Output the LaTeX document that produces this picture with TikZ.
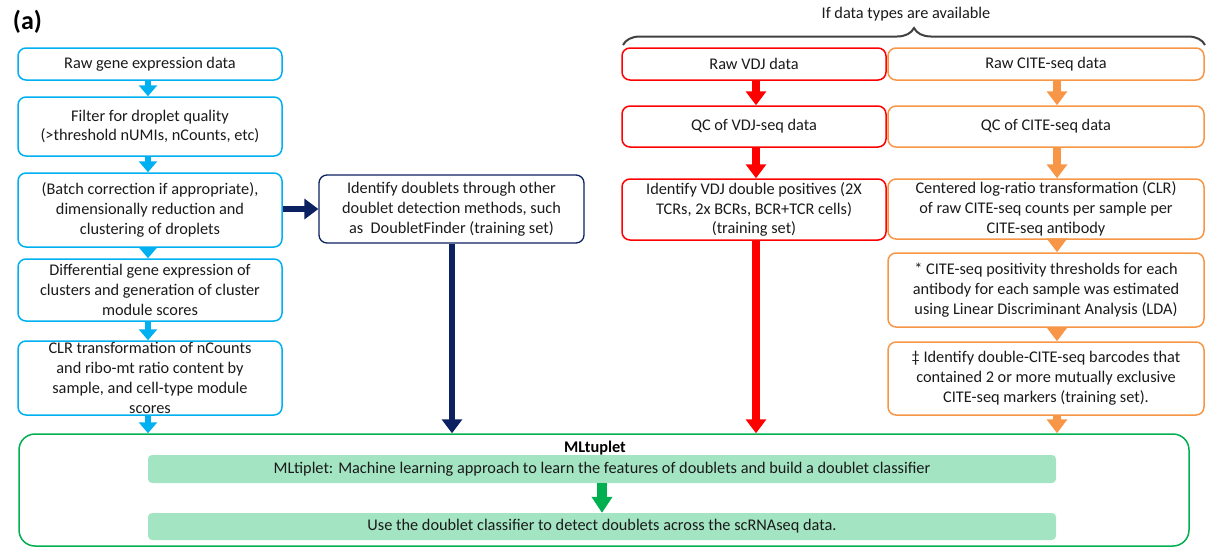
\documentclass[tikz,border=0pt]{standalone}
\usepackage{fontspec}
\setmainfont{Carlito}
\usetikzlibrary{arrows.meta,decorations.pathreplacing}
\definecolor{cyanc}{HTML}{00B0F0}
\definecolor{navyc}{HTML}{0B2161}
\definecolor{redc}{HTML}{FF0000}
\definecolor{orangec}{HTML}{F79646}
\definecolor{greenc}{HTML}{00B050}
\definecolor{barc}{HTML}{A3E4C2}
\definecolor{txt}{HTML}{1A1A1A}
\definecolor{bracec}{HTML}{404040}
\begin{document}
\begin{tikzpicture}[x=1pt,y=-1pt,
  box/.style={draw, rounded corners=8pt, line width=1.5pt, inner sep=0pt, align=center,
    font=\fontsize{16.3}{19.8}\selectfont, text=txt},
  bluebox/.style={box, draw=cyanc, minimum width=264pt},
  navybox/.style={box, draw=navyc, line width=1.3pt, minimum width=265pt},
  redbox/.style={box, draw=redc, minimum width=264pt},
  orangebox/.style={box, draw=orangec, minimum width=316pt},
  barbox/.style={fill=barc, rounded corners=4pt, inner sep=0pt, minimum width=908pt,
    font=\fontsize{16.3}{19.8}\selectfont, text=txt},
  cyanarrow/.style={draw=cyanc, line width=6pt, -{Triangle[width=18pt,length=11pt]}},
  navyarrow/.style={draw=navyc, line width=6pt, -{Triangle[width=20pt,length=14pt]}},
  redarrow/.style={draw=redc, line width=8pt, -{Triangle[width=20pt,length=14pt]}},
  orangearrow/.style={draw=orangec, line width=8pt, -{Triangle[width=20pt,length=14pt]}},
  greenarrow/.style={draw=greenc, line width=10pt, -{Triangle[width=20pt,length=16pt]}}
]
\useasboundingbox (0,0) rectangle (1208,547);

\node[font=\fontsize{26}{30}\selectfont\bfseries, text=black, inner sep=0pt] (lbl) at (27.5,22) {(a)};

% left column
\node[bluebox, minimum height=32pt] (L1) at (150,64) {Raw gene expression data};
\node[bluebox, minimum height=59pt] (L2) at (150,126.5) {Filter for droplet quality\\(>threshold nUMIs, nCounts, etc)};
\node[bluebox, minimum height=74pt] (L3) at (150,210) {(Batch correction if appropriate),\\dimensionally reduction and\\clustering of droplets};
\node[bluebox, minimum height=62pt] (L4) at (150,290) {Differential gene expression of\\clusters and generation of cluster\\module scores};
\node[bluebox, minimum height=74pt] (L5) at (150,378) {CLR transformation of nCounts\\and ribo-mt ratio content by\\sample, and cell-type module\\scores};

% middle
\node[navybox, minimum height=68pt] (M) at (451.5,209) {Identify doublets through other\\doublet detection methods, such\\as\ \ DoubletFinder (training set)};

% VDJ
\node[redbox, minimum height=32pt] (V1) at (754,64) {Raw VDJ data};
\node[redbox, minimum height=41pt] (V2) at (754,126.5) {QC of VDJ-seq data};
\node[redbox, minimum height=61pt] (V3) at (754,209.5) {Identify VDJ double positives (2X\\TCRs, 2x BCRs, BCR+TCR cells)\\(training set)};

% CITE
\node[orangebox, minimum height=32pt] (C1) at (1046,64) {Raw CITE-seq data};
\node[orangebox, minimum height=41pt] (C2) at (1046,126.5) {QC of CITE-seq data};
\node[orangebox, minimum height=60pt] (C3) at (1046,209) {Centered log-ratio transformation (CLR)\\of raw CITE-seq counts per sample per\\CITE-seq antibody};
\node[orangebox, minimum height=74pt] (C4) at (1046,290) {* CITE-seq positivity thresholds for each\\antibody for each sample was estimated\\using Linear Discriminant Analysis (LDA)};
\node[orangebox, minimum height=73pt] (C5) at (1046,378.5) {‡ Identify double-CITE-seq barcodes that\\contained 2 or more mutually exclusive\\CITE-seq markers (training set).};

% brace
\draw[decorate, decoration={brace, amplitude=17pt}, draw=bracec, line width=2pt] (623,45) coordinate (bl) -- (1205,45) coordinate (br);
\node[font=\fontsize{16.3}{19.8}\selectfont, text=txt, inner sep=0pt] (bt) at (906,14) {If data types are available};

% green box
\node[draw=greenc, line width=1.5pt, rounded corners=16pt, minimum width=1170pt, minimum height=112pt, inner sep=0pt] (G) at (604,490) {};
\node[font=\fontsize{16.3}{19.8}\selectfont\bfseries, text=black, inner sep=0pt] (GT) at (595,448) {MLtuplet};
\node[barbox, minimum height=28pt] (B1) at (602,469) {MLtiplet: Machine learning approach to learn the features of doublets and build a doublet classifier};
\node[barbox, minimum height=27pt] (B2) at (602,526.5) {Use the doublet classifier to detect doublets across the scRNAseq data.};

% x positions of arrows
\coordinate (bx) at (148,0);
\coordinate (nx) at (452,0);
\coordinate (rx) at (756,0);
\coordinate (ox) at (1057,0);

% arrows
\draw[cyanarrow] (L1.south -| bx) -- (L2.north -| bx);
\draw[cyanarrow] (L2.south -| bx) -- (L3.north -| bx);
\draw[cyanarrow] (L3.south -| bx) -- (L4.north -| bx);
\draw[cyanarrow] (L4.south -| bx) -- (L5.north -| bx);
\draw[cyanarrow] (L5.south -| bx) -- (G.north -| bx);

\draw[navyarrow] (M.west -| L3.east) -- (M.west);
\draw[navyarrow] (M.south -| nx) -- (G.north -| nx);

\draw[redarrow] (V1.south -| rx) -- (V2.north -| rx);
\draw[redarrow] (V2.south -| rx) -- (V3.north -| rx);
\draw[redarrow] (V3.south -| rx) -- (G.north -| rx);

\draw[orangearrow] (C1.south -| ox) -- (C2.north -| ox);
\draw[orangearrow] (C2.south -| ox) -- (C3.north -| ox);
\draw[orangearrow] (C3.south -| ox) -- (C4.north -| ox);
\draw[orangearrow] (C4.south -| ox) -- (C5.north -| ox);
\draw[orangearrow] (C5.south -| ox) -- (G.north -| ox);

\draw[greenarrow] (B1.south) -- (B2.north);
\end{tikzpicture}
\end{document}
